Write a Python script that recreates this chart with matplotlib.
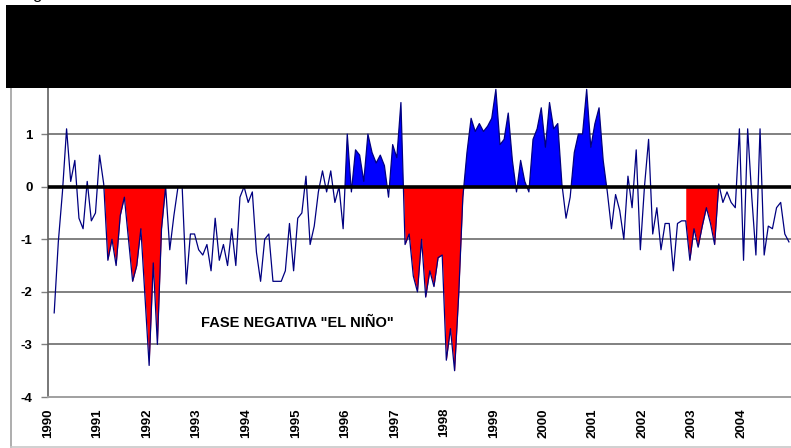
import numpy as np
import matplotlib.pyplot as plt
from matplotlib.patches import Rectangle
from matplotlib.lines import Line2D

plt.rcParams['font.family'] = ['Liberation Sans', 'DejaVu Sans']

# monthly index values, Jan 1990 .. Dec 2004
values = [
    -2.4, -1.05, -0.1, 1.1, 0.1, 0.5, -0.6, -0.8, 0.1, -0.65, -0.5, 0.6,
    0.05, -1.4, -1.0, -1.5, -0.55, -0.2, -1.0, -1.8, -1.5, -0.8, -2.1, -3.4,
    -1.45, -3.0, -0.8, 0.0, -1.2, -0.55, 0.0, 0.0, -1.85, -0.9, -0.9, -1.2,
    -1.3, -1.1, -1.6, -0.6, -1.4, -1.1, -1.5, -0.8, -1.5, -0.2, 0.0, -0.3,
    -0.1, -1.25, -1.8, -1.0, -0.9, -1.8, -1.8, -1.8, -1.6, -0.7, -1.6, -0.6,
    -0.5, 0.2, -1.1, -0.75, -0.1, 0.3, -0.1, 0.3, -0.3, 0.0, -0.8, 1.0,
    -0.1, 0.7, 0.6, 0.1, 1.0, 0.65, 0.45, 0.6, 0.4, -0.2, 0.8, 0.55,
    1.6, -1.1, -0.9, -1.7, -2.0, -1.0, -2.1, -1.6, -1.9, -1.35, -1.3, -3.3,
    -2.7, -3.5, -2.05, -0.2, 0.65, 1.3, 1.05, 1.2, 1.05, 1.15, 1.3, 1.85,
    0.8, 0.9, 1.4, 0.5, -0.1, 0.5, 0.1, -0.1, 0.9, 1.1, 1.5, 0.75,
    1.6, 1.1, 1.2, 0.05, -0.6, -0.2, 0.65, 1.0, 1.0, 1.85, 0.75, 1.2,
    1.5, 0.5, -0.1, -0.8, -0.15, -0.45, -1.0, 0.2, -0.4, 0.7, -1.2, 0.0,
    0.9, -0.9, -0.4, -1.2, -0.7, -0.7, -1.6, -0.7, -0.65, -0.65, -1.4, -0.8,
    -1.15, -0.75, -0.4, -0.7, -1.1, 0.05, -0.3, -0.1, -0.3, -0.4, 1.1, -1.4,
    1.1, -0.2, -1.3, 1.1, -1.3, -0.75, -0.8, -0.4, -0.3, -0.9, -1.05,
]
years = [str(y) for y in range(1990, 2005)]

# episodes shaded on the chart (index ranges into values)
red_spans = [(12, 28), (84, 101), (153, 162)]
blue_spans = [(70, 86), (98, 136)]

y = np.array(values)
x = np.arange(len(y)) + 1.5

fig = plt.figure(figsize=(7.91, 4.48), dpi=100)
ax = fig.add_axes([48 / 791, 1 - 397 / 448, 1 - 48 / 791, (397 - 81.5) / 448])

for a, b in red_spans:
    ax.fill_between(x[a:b], y[a:b], 0, where=y[a:b] < 0, interpolate=True,
                    color='#FF0000', linewidth=0, zorder=2)
for a, b in blue_spans:
    ax.fill_between(x[a:b], y[a:b], 0, where=y[a:b] > 0, interpolate=True,
                    color='#0000FF', linewidth=0, zorder=2)

ax.plot(x, y, color='#000080', linewidth=0.9, zorder=3)
ax.axhline(0, color='black', linewidth=2.6, zorder=4)
for v in [-3, -2, -1, 1, 2]:
    ax.axhline(v, color='#808080', linewidth=1.4, zorder=1)

ax.set_xlim(0, 180)
ax.set_ylim(-4, 2)
ax.set_yticks(range(-4, 3))
ax.set_yticklabels([str(v) for v in range(-4, 3)], fontsize=9.5, fontweight='bold')
ax.set_xticks(np.arange(len(years)) * 12)
ax.set_xticklabels(years, rotation=90, fontsize=9.5, fontweight='bold')
ax.tick_params(axis='x', length=0, pad=8)
ax.tick_params(axis='y', length=5, width=1, color='#808080', pad=6)

for s in ['top', 'right']:
    ax.spines[s].set_visible(False)
ax.spines['left'].set_color('#606060')
ax.spines['left'].set_linewidth(1.2)
ax.spines['bottom'].set_color('#a0a0a0')
ax.spines['bottom'].set_linewidth(1.4)

ax.text(37, -2.6, 'FASE NEGATIVA "EL NIÑO"', fontsize=10.5, fontweight='bold',
        va='center', ha='left', zorder=5)

# outer chart frame
fig.add_artist(Line2D([11 / 791, 11 / 791], [1 - 447 / 448, 1 - 88 / 448],
                      color='#a0a0a0', linewidth=1.2))
fig.add_artist(Line2D([11 / 791, 1], [1 - 447 / 448, 1 - 447 / 448],
                      color='#c8c8c8', linewidth=1.2))

# black box over the top of the chart
fig.add_artist(Rectangle((6 / 791, 1 - 88 / 448), 1 - 6 / 791, 83 / 448,
                         facecolor='black', edgecolor='none', zorder=10))
fig.text(37 / 791, 1 + 1 / 448, 'g', fontsize=12, ha='center', va='baseline')

plt.savefig('out.png', dpi=100)
